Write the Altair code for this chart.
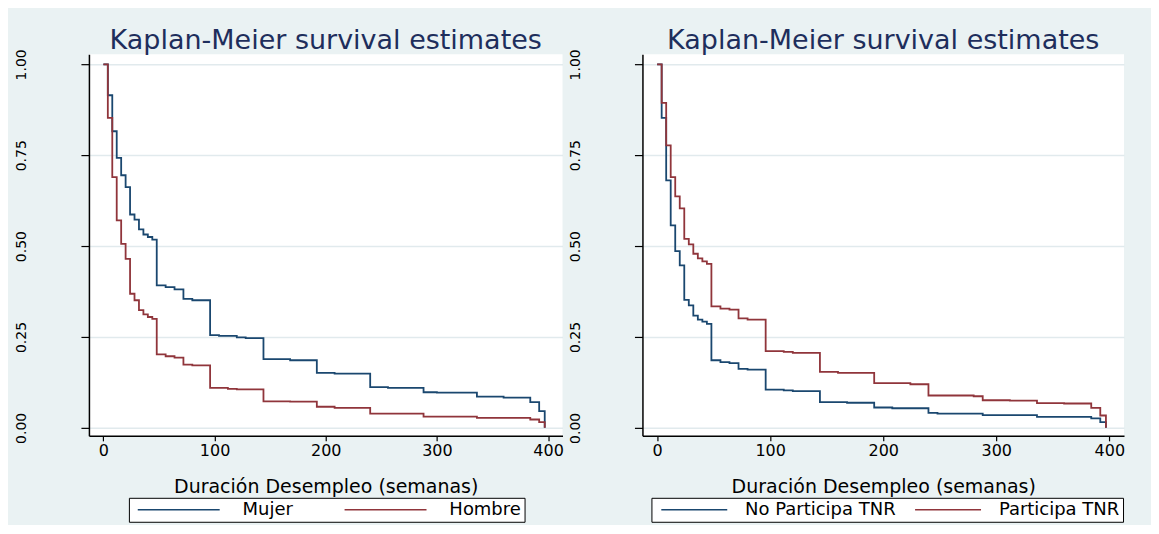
import altair as alt
import pandas as pd

# ---- Left panel: by sex ----
mujer_t = [0, 4, 8, 12, 16, 20, 24, 28, 32, 36, 40, 44, 48, 56, 64, 72, 80, 96, 104, 120, 128,
           144, 168, 192, 208, 240, 256, 288, 300, 336, 360, 384, 392, 397]
mujer_s = [1.0, 0.915, 0.816, 0.743, 0.695, 0.662, 0.587, 0.573, 0.546, 0.532, 0.525, 0.518,
           0.392, 0.387, 0.381, 0.355, 0.351, 0.255, 0.253, 0.249, 0.247, 0.189, 0.186, 0.151,
           0.149, 0.112, 0.110, 0.098, 0.097, 0.086, 0.083, 0.071, 0.046, 0.0]

hombre_t = [0, 4, 8, 12, 16, 20, 24, 28, 32, 36, 40, 44, 48, 56, 64, 72, 80, 96, 112, 120,
            144, 168, 192, 208, 240, 288, 336, 384, 392, 397]
hombre_s = [1.0, 0.853, 0.690, 0.571, 0.506, 0.465, 0.369, 0.351, 0.324, 0.312, 0.305, 0.300,
            0.202, 0.197, 0.193, 0.174, 0.172, 0.110, 0.107, 0.106, 0.073, 0.072, 0.058, 0.055,
            0.039, 0.031, 0.0275, 0.023, 0.016, 0.0]

# ---- Right panel: by TNR participation ----
nopart_t = [0, 4, 8, 12, 16, 20, 24, 28, 32, 36, 40, 44, 48, 56, 64, 72, 80, 96, 112, 120,
            144, 168, 192, 208, 240, 248, 288, 336, 384, 392, 397]
nopart_s = [1.0, 0.853, 0.681, 0.557, 0.486, 0.447, 0.352, 0.337, 0.309, 0.298, 0.292, 0.286,
            0.186, 0.181, 0.178, 0.162, 0.160, 0.105, 0.103, 0.101, 0.071, 0.069, 0.056, 0.054,
            0.041, 0.039, 0.035, 0.030, 0.026, 0.016, 0.0]

part_t = [0, 4, 8, 12, 16, 20, 24, 28, 32, 36, 40, 44, 48, 56, 64, 72, 80, 96, 112, 120,
          144, 160, 192, 224, 240, 280, 288, 312, 336, 360, 384, 392, 397]
part_s = [1.0, 0.894, 0.777, 0.690, 0.637, 0.604, 0.520, 0.505, 0.479, 0.466, 0.458, 0.451,
          0.334, 0.328, 0.325, 0.301, 0.298, 0.211, 0.209, 0.206, 0.154, 0.151, 0.123, 0.120,
          0.089, 0.087, 0.076, 0.075, 0.068, 0.067, 0.055, 0.034, 0.0]

left_names = ["Mujer", "Hombre"]
right_names = ["No Participa TNR", "Participa TNR"]
x_ticks = [0, 100, 200, 300, 400]
y_ticks = [0.0, 0.25, 0.5, 0.75, 1.0]
title_text = "Kaplan-Meier survival estimates"
x_title = "Duración Desempleo (semanas)"

FONT = "DejaVu Sans"
BLUE = "#1a476f"
RED = "#90353b"
BG = "#eaf2f3"
GRID = "#e1eaed"
TITLE_COLOR = "#1e2e5c"
KEY_PATH = "M-1,0H15"


def km_panel(series, names, width, legend_x, key_len, label_gap, col_pad, label_expr=None):
    frames = [pd.DataFrame({"t": t, "s": s, "grupo": n}) for n, t, s in series]
    df = pd.concat(frames, ignore_index=True)
    r = key_len / 16.0
    leg = dict(
        orient="none", legendX=legend_x, legendY=444, direction="horizontal",
        title="\u00a0", titleOrient="left", titleFontSize=8, titlePadding=2,
        symbolType=KEY_PATH, symbolSize=(2 * r) ** 2, symbolStrokeWidth=1.5,
        symbolFillColor="transparent",
        labelFont=FONT, labelFontSize=18, labelColor="black", labelLimit=400,
        labelOffset=key_len + label_gap - 2 * r, columnPadding=col_pad, padding=3,
        strokeColor="black", fillColor="white",
    )
    if label_expr:
        leg["labelExpr"] = label_expr
    return alt.Chart(df).mark_line(interpolate="step-after", strokeWidth=1.8).encode(
        x=alt.X("t:Q",
                scale=alt.Scale(domain=[-13, 413], nice=False, zero=False),
                axis=alt.Axis(values=x_ticks, title=x_title, grid=False, tickSize=5,
                              labelFontSize=16, labelPadding=2, titleFontSize=19,
                              titlePadding=19, format="d")),
        y=alt.Y("s:Q",
                scale=alt.Scale(domain=[-0.022, 1.028], nice=False, zero=False),
                axis=alt.Axis(values=y_ticks, title=None, format=".2f", grid=True,
                              gridColor=GRID, gridWidth=1.5, tickSize=8,
                              labelAngle=270, labelAlign="center", labelBaseline="middle",
                              labelFontSize=14, labelPadding=59)),
        color=alt.Color("grupo:N", scale=alt.Scale(domain=names, range=[BLUE, RED]),
                        legend=alt.Legend(**leg)),
    ).properties(
        width=width, height=382,
        title=alt.TitleParams(title_text, font=FONT, fontSize=27, fontWeight="normal",
                              color=TITLE_COLOR, anchor="middle", offset=-6),
    )


left = km_panel([("Mujer", mujer_t, mujer_s), ("Hombre", hombre_t, hombre_s)], left_names,
                width=474, legend_x=40, key_len=82, label_gap=19, col_pad=47,
                label_expr="datum.label + (datum.label == 'Hombre' ? '\u00a0\u00a0\u00a0' : '')")
right = km_panel([("No Participa TNR", nopart_t, nopart_s), ("Participa TNR", part_t, part_s)],
                 right_names, width=482, legend_x=9, key_len=66, label_gap=13, col_pad=14)

chart = alt.hconcat(left, right, spacing=4).resolve_scale(color="independent").properties(
    background=BG,
    padding={"left": 6, "top": 18, "right": 26, "bottom": 2},
).configure_view(fill="white", stroke=None).configure_axis(
    domainColor="black", domainWidth=1.5, tickColor="black", tickWidth=1.2,
    labelFont=FONT, titleFont=FONT, labelColor="black", titleColor="black",
    titleFontWeight="normal",
)

chart.save("out.html", embed_options={"renderer": "svg", "actions": False})
